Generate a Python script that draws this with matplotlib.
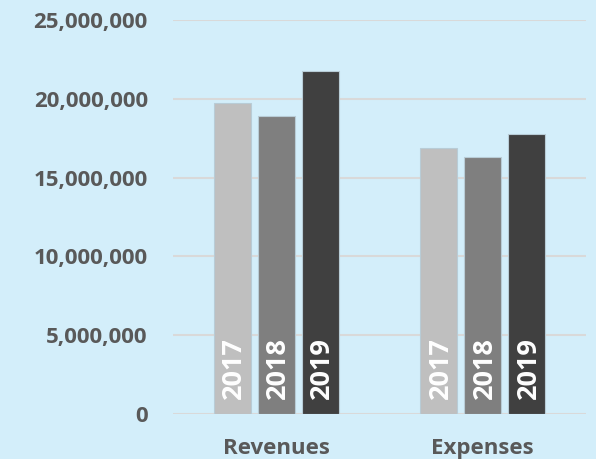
import matplotlib.pyplot as plt
import numpy as np

# Data
categories = ["Revenues", "Expenses"]
years = ["2017", "2018", "2019"]
values_2017 = [19750000, 16900000]
values_2018 = [18900000, 16300000]
values_2019 = [21750000, 17800000]
yticks = [0, 5000000, 10000000, 15000000, 20000000, 25000000]

series = [values_2017, values_2018, values_2019]
colors = ["#BFBFBF", "#7F7F7F", "#404040"]
bg = "#D3EEFA"
text_col = "#595959"

plt.rcParams['font.family'] = ['Open Sans', 'DejaVu Sans']

fig = plt.figure(figsize=(5.96, 4.59), dpi=100, facecolor=bg)
ax = fig.add_axes([0.290, 0.098, 0.693, 0.858])
ax.set_facecolor(bg)

x = np.arange(len(categories))
width = 0.179
step = 0.213

for i, (yr, vals) in enumerate(zip(years, series)):
    pos = x + (i - 1) * step
    ax.bar(pos, vals, width, color=colors[i], edgecolor="#B8CCD6", linewidth=0.8, zorder=3)
    for p in pos:
        ax.annotate(yr, (p, 0), xytext=(1.5, 11), textcoords="offset points",
                    rotation=90, rotation_mode="anchor", ha="left", va="center",
                    color="white", fontsize=19.5, fontweight="bold", zorder=4)

ax.set_xlim(-0.5, 1.5)
ax.set_ylim(0, 25000000)
ax.set_yticks(yticks)
ax.set_yticklabels([f"{v:,}" for v in yticks])
ax.set_xticks(x)
ax.set_xticklabels(categories)

ax.grid(axis="y", color="#D9D9D9", linewidth=1.5, zorder=0)
ax.set_axisbelow(True)
for s in ax.spines.values():
    s.set_visible(False)

ax.tick_params(axis="y", length=0, pad=18, labelsize=16, labelcolor=text_col)
ax.tick_params(axis="x", length=0, pad=17, labelsize=16, labelcolor=text_col)
for lbl in ax.get_xticklabels() + ax.get_yticklabels():
    lbl.set_fontweight("bold")

fig.savefig("out.png", dpi=100, facecolor=bg)
